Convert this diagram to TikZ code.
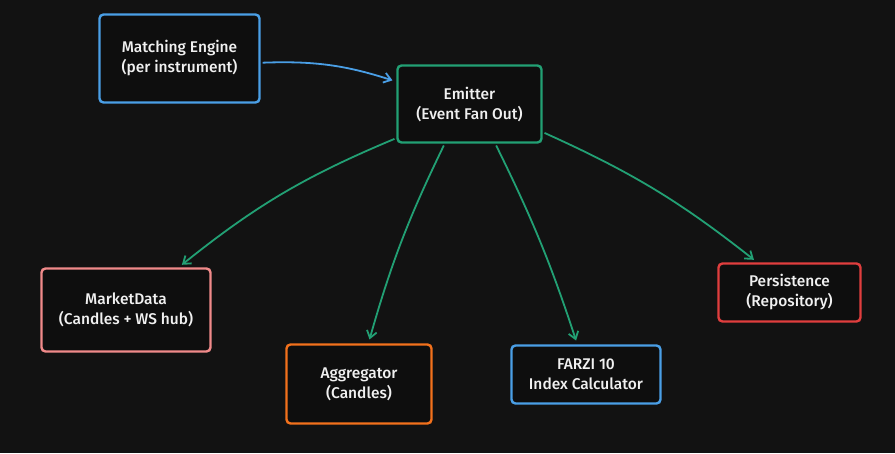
\documentclass[tikz,border=0pt]{standalone}
\usepackage{fontspec}
\setmainfont{Fira Sans}
\newfontfamily\boxfont{Fira Sans Medium}
\usetikzlibrary{arrows.meta}
\definecolor{bg}{HTML}{121212}
\definecolor{boxfill}{HTML}{0E0E0E}
\definecolor{fg}{HTML}{F0F0F0}
\definecolor{cblue}{HTML}{4A9FE6}
\definecolor{cgreen}{HTML}{22A074}
\definecolor{cpink}{HTML}{F08A8A}
\definecolor{corange}{HTML}{F2711C}
\definecolor{cred}{HTML}{E03E3E}
\tikzset{
  box/.style={draw, rounded corners=4pt, line width=2.4pt, fill=boxfill, text=fg,
    align=center, inner sep=0pt, font=\boxfont\fontsize{15.5}{20}\selectfont},
  conn/.style={line width=1.8pt, -{Straight Barb[length=7pt,width=10pt,line width=1.8pt]}, shorten >=4pt, shorten <=2pt},
}
\begin{document}
\begin{tikzpicture}[x=1pt,y=-1pt]
\fill[bg] (0,0) rectangle (895,453);
\useasboundingbox (0,0) rectangle (895,453);
\node[box, draw=cblue, minimum width=160pt, minimum height=88pt] (me) at (179.5,58.5) {Matching Engine\\(per instrument)};
\node[box, draw=cgreen, minimum width=144pt, minimum height=77pt] (em) at (469.5,104) {Emitter\\(Event Fan Out)};
\node[box, draw=cpink, minimum width=169pt, minimum height=83pt] (md) at (126,310) {MarketData\\(Candles + WS hub)};
\node[box, draw=corange, minimum width=145pt, minimum height=79pt] (ag) at (359,384) {Aggregator\\(Candles)};
\node[box, draw=cblue, minimum width=149pt, minimum height=58pt] (fa) at (586,374.5) {FARZI 10\\Index Calculator};
\node[box, draw=cred, minimum width=142pt, minimum height=58pt] (pe) at (789.5,292.5) {Persistence\\(Repository)};
\draw[conn, draw=cblue] (me.-3) to[bend left=10] (em.163);
\draw[conn, draw=cgreen] (em.205) to[bend right=8] (md.39);
\draw[conn, draw=cgreen] (em.238) to[bend right=5] (ag.77);
\draw[conn, draw=cgreen] (em.303) to[bend left=4] (fa.106);
\draw[conn, draw=cgreen] (em.339) to[bend left=7] (pe.137);
\end{tikzpicture}
\end{document}
